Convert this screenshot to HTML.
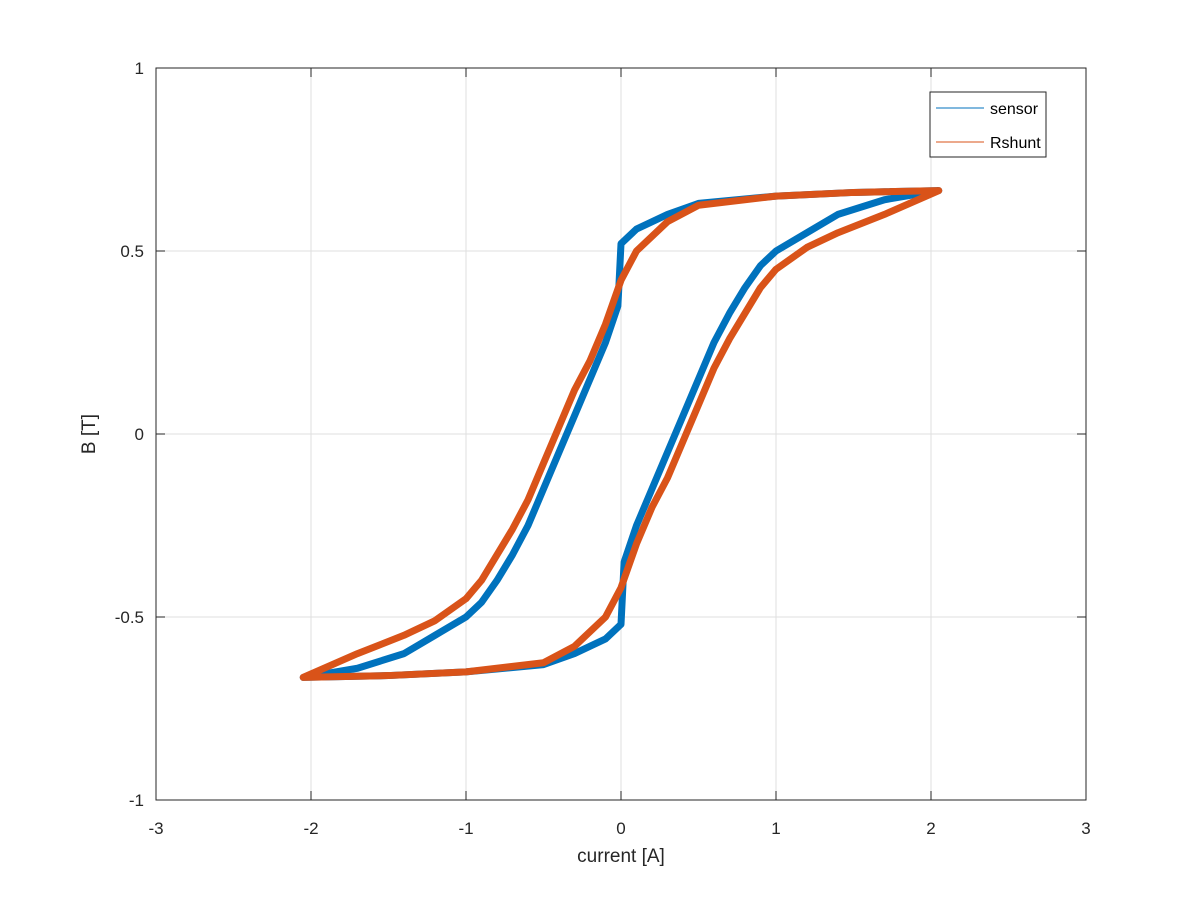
<!DOCTYPE html>
<html><head><meta charset="utf-8"><style>
body{margin:0;background:#fff;font-family:"Liberation Sans",sans-serif}
</style></head><body>
<svg id="chart" width="1200" height="900" xmlns="http://www.w3.org/2000/svg" font-family="Liberation Sans, sans-serif">
<rect width="1200" height="900" fill="#fff"/>
<g id="grid"></g>
<g id="series"></g>
<rect x="156" y="68" width="930" height="732" fill="none" stroke="#262626" stroke-width="1"/>
<g id="ticks"></g>
<text x="621" y="862" font-size="19" text-anchor="middle" fill="#262626">current [A]</text>
<text transform="translate(95,434) rotate(-90)" font-size="19" text-anchor="middle" fill="#262626">B [T]</text>
<g>
<rect x="930" y="92" width="116" height="65" fill="#fff" stroke="#262626" stroke-width="1"/>
<line x1="936" y1="108" x2="984" y2="108" stroke="#0072bd" stroke-width="1"/>
<text x="990" y="114" font-size="16" fill="#000">sensor</text>
<line x1="936" y1="142" x2="984" y2="142" stroke="#d95319" stroke-width="1"/>
<text x="990" y="148" font-size="16" fill="#000">Rshunt</text>
</g>
</svg>
<script>
const xTicks=[-3,-2,-1,0,1,2,3];
const yTicks=[-1,-0.5,0,0.5,1];
const sensorX=[-2.05,-1.5,-1,-0.5,-0.3,-0.1,0,0.02,0.1,0.2,0.3,0.4,0.5,0.6,0.7,0.8,0.9,1.0,1.2,1.4,1.7,2.05];
const sensorY=[-0.665,-0.66,-0.65,-0.63,-0.6,-0.56,-0.52,-0.35,-0.25,-0.15,-0.05,0.05,0.15,0.25,0.33,0.4,0.46,0.5,0.55,0.6,0.64,0.665];
const rshuntX=[-2.05,-1.5,-1,-0.5,-0.3,-0.1,0,0.1,0.2,0.3,0.4,0.5,0.6,0.7,0.8,0.9,1.0,1.2,1.4,1.7,2.05];
const rshuntY=[-0.665,-0.66,-0.65,-0.625,-0.58,-0.5,-0.42,-0.3,-0.2,-0.12,-0.02,0.08,0.18,0.26,0.33,0.4,0.45,0.51,0.55,0.6,0.665];
const NS="http://www.w3.org/2000/svg";
const sx=v=>621+v*155, sy=v=>434-v*366;
const grid=document.getElementById('grid'),ticks=document.getElementById('ticks'),ser=document.getElementById('series');
function mk(tag,attrs,parent){const e=document.createElementNS(NS,tag);for(const k in attrs)e.setAttribute(k,attrs[k]);parent.appendChild(e);return e;}
xTicks.forEach(t=>{
 const g=mk('line',{x1:sx(t),x2:sx(t),y1:68,y2:800,stroke:'#dfdfdf','stroke-width':1},grid);
 
 
 const a=mk('line',{x1:sx(t),x2:sx(t),y1:800,y2:791,stroke:'#262626'},ticks);
 
 
 const b=mk('line',{x1:sx(t),x2:sx(t),y1:68,y2:77,stroke:'#262626'},ticks);
 
 
 const tx=mk('text',{x:sx(t),y:834,'font-size':17,'text-anchor':'middle',fill:'#262626'},ticks);
 tx.textContent=String(t);
 
 
});
yTicks.forEach(t=>{
 const g=mk('line',{x1:156,x2:1086,y1:sy(t),y2:sy(t),stroke:'#dfdfdf','stroke-width':1},grid);
 
 
 const a=mk('line',{x1:156,x2:165,y1:sy(t),y2:sy(t),stroke:'#262626'},ticks);
 
 
 const b=mk('line',{x1:1077,x2:1086,y1:sy(t),y2:sy(t),stroke:'#262626'},ticks);
 
 
 const tx=mk('text',{x:144,y:sy(t)+6,'font-size':17,'text-anchor':'end',fill:'#262626'},ticks);
 tx.textContent=String(t);
 
 
});
function loop(X,Y){
 let d='';
 for(let i=0;i<X.length;i++){d+=(i?'L':'M')+sx(X[i])+','+sy(Y[i]);}
 for(let i=0;i<X.length;i++){d+='L'+sx(-X[i])+','+sy(-Y[i]);}
 return d+'Z';
}
const p1=mk('path',{d:loop(sensorX,sensorY),fill:'none',stroke:'#0072bd','stroke-width':7,'stroke-linejoin':'round'},ser);


const p2=mk('path',{d:loop(rshuntX,rshuntY),fill:'none',stroke:'#d95319','stroke-width':7,'stroke-linejoin':'round'},ser);


</script>
</body></html>
